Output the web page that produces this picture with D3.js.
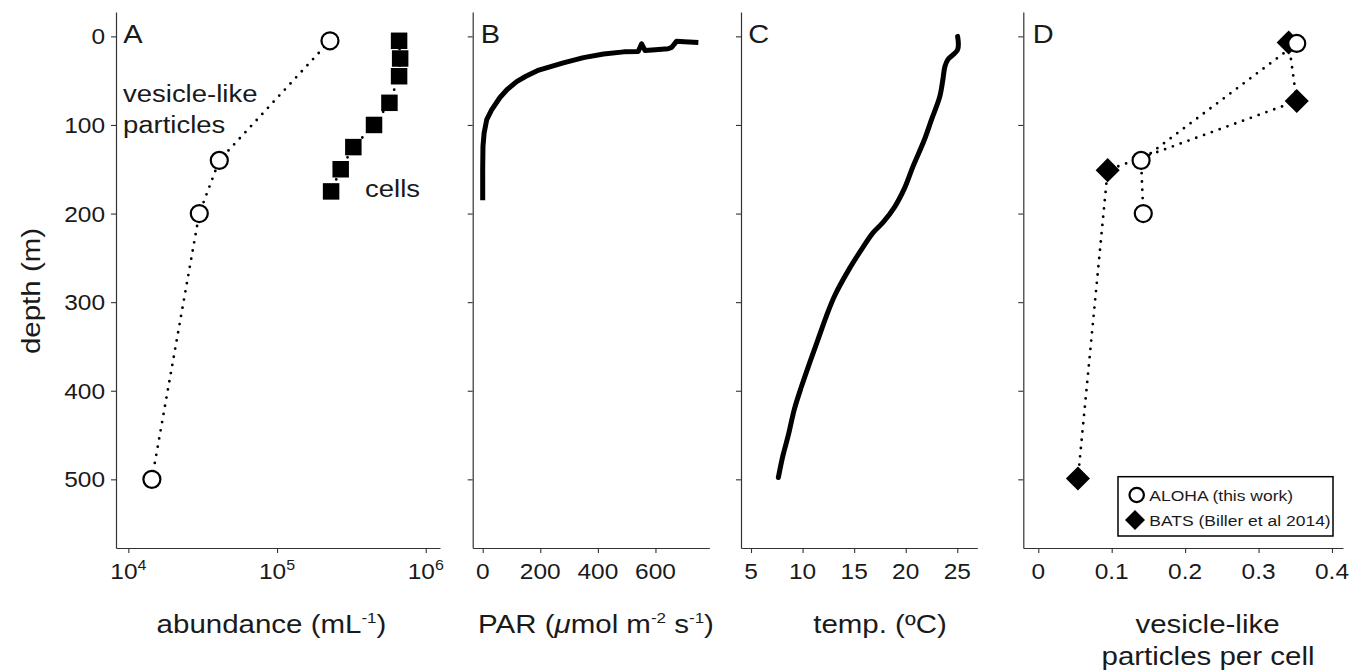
<!DOCTYPE html>
<html>
<head>
<meta charset="utf-8">
<script src="https://cdn.jsdelivr.net/npm/d3@7"></script>
<style>
  html, body { margin: 0; padding: 0; background: #fff; }
  svg text { font-family: "Liberation Sans", Arial, Helvetica, sans-serif; fill: #1a1a1a; }
</style>
</head>
<body>
<svg id="chart" width="1355" height="672"></svg>
<script>
// ---------------- data ----------------
// Panel A: abundance (mL^-1) vs depth (m)
const vesDepth = [5, 140, 200, 500];
const vesAbund = [2.27e5, 4.09e4, 3.0e4, 1.44e4];
const cellDepth = [5, 25, 45, 75, 100, 125, 150, 175];
const cellAbund = [6.62e5, 6.73e5, 6.62e5, 5.7e5, 4.49e5, 3.26e5, 2.68e5, 2.31e5];

// Panel B: PAR profile
const parDepth = [185, 150, 124, 109, 94, 83, 69, 60, 51, 45, 38, 30, 24, 20, 17.5, 17, 8.5, 16, 15, 14, 12.5, 5.6, 6, 6.8];
const parValue = [0, 0, 1, 5, 14, 31, 60, 85, 118, 150, 195, 280, 350, 420, 490, 540, 552, 564, 600, 644, 656, 673, 700, 749];

// Panel C: temperature profile
const tempDepth = [0, 15, 26, 34, 49, 68, 94, 117, 147, 171, 193, 210, 222, 239, 263, 293, 316, 342, 368, 395, 421, 451, 473, 498];
const tempValue = [25.03, 25.03, 24.1, 23.8, 23.6, 23.3, 22.5, 21.8, 20.7, 19.9, 18.9, 17.8, 16.8, 15.8, 14.5, 13.1, 12.3, 11.5, 10.7, 9.9, 9.2, 8.6, 8.1, 7.65];

// Panel D: vesicle-like particles per cell
const alohaDepth = [8, 140, 200];
const alohaRatio = [0.352, 0.140, 0.143];
const batsDepth = [7, 73, 151, 499];
const batsRatio = [0.341, 0.352, 0.0945, 0.054];

// ticks / labels
const depthTicks = [0, 100, 200, 300, 400, 500];
const abundTicks = [1e4, 1e5, 1e6];
const abundTickExp = ["4", "5", "6"];
const parTicks = [0, 200, 400, 600];
const tempTicks = [5, 10, 15, 20, 25];
const ratioTicks = [0, 0.1, 0.2, 0.3, 0.4];
const ratioTickLabels = ["0", "0.1", "0.2", "0.3", "0.4"];
const panelLetters = ["A", "B", "C", "D"];
const legendLabels = ["ALOHA (this work)", "BATS (Biller et al 2014)"];

// ---------------- layout ----------------
const svg = d3.select("#chart");
const SY = 0.88;       // vertical text compression to match reference glyphs
const AX = "#333";
const plotTop = 12, plotBottom = 548;

const y = d3.scaleLinear().domain([-27.5, 577.5]).range([plotTop, plotBottom]);

const xA = d3.scaleLog().domain([Math.pow(10, 3.917), Math.pow(10, 6.096)]).range([116, 440]);
const xB = d3.scaleLinear().domain([-34.7, 787]).range([472.7, 709.3]);
const xC = d3.scaleLinear().domain([4.03, 26.94]).range([741, 977.3]);
const xD = d3.scaleLinear().domain([-0.0204, 0.415]).range([1023.3, 1343]);

function txt(parent, x, yy, size, anchor, rot) {
  return parent.append("text")
    .attr("transform", `translate(${x},${yy}) rotate(${rot || 0}) scale(1,${SY})`)
    .attr("text-anchor", anchor)
    .style("font-size", size + "px");
}

function drawAxes(x, ticks, labelFn) {
  const g = svg.append("g");
  g.append("g").attr("transform", `translate(${x.range()[0]},0)`)
    .call(d3.axisLeft(y).tickValues(depthTicks).tickSize(5).tickSizeOuter(0).tickFormat(""));
  g.append("g").attr("transform", `translate(0,${plotBottom})`)
    .call(d3.axisBottom(x).tickValues(ticks).tickSize(5).tickSizeOuter(0).tickFormat(""));
  g.selectAll(".domain").attr("stroke", AX).attr("stroke-width", 1.2);
  g.selectAll(".tick line").attr("stroke", AX).attr("stroke-width", 1.1);
  ticks.forEach((t, i) => labelFn(g, x(t), 579, t, i));
  return g;
}

// Panel A
drawAxes(xA, abundTicks, (g, px, py, t, i) => {
  const el = txt(g, px, py, 24.5, "middle");
  el.append("tspan").text("10");
  el.append("tspan").attr("dy", -10).style("font-size", "16px").text(abundTickExp[i]);
});
depthTicks.forEach(d => txt(svg, 105, y(d) + 8, 24.5, "end").text(d));

// Panel B
drawAxes(xB, parTicks, (g, px, py, t) => txt(g, px, py, 24.5, "middle").text(t));
// Panel C
drawAxes(xC, tempTicks, (g, px, py, t) => txt(g, px, py, 24.5, "middle").text(t));
// Panel D
drawAxes(xD, ratioTicks, (g, px, py, t, i) => txt(g, px, py, 24.5, "middle").text(ratioTickLabels[i]));

// panel letters
[123.3, 480.7, 748.3, 1032.7].forEach((px, i) => {
  txt(svg, px, 43, 29, "start").text(panelLetters[i]);
});

// axis titles
txt(svg, 40, 291, 29.5, "middle", -90).text("depth (m)");
{
  const t = txt(svg, 271.5, 633, 29.5, "middle");
  t.append("tspan").text("abundance (mL");
  t.append("tspan").attr("dy", -11).style("font-size", "17px").text("-1");
  t.append("tspan").attr("dy", 11).text(")");
}
{
  const t = txt(svg, 596, 633, 29.5, "middle");
  t.append("tspan").text("PAR (");
  t.append("tspan").style("font-style", "italic").text("\u03bc");
  t.append("tspan").text("mol m");
  t.append("tspan").attr("dy", -11).style("font-size", "17px").text("-2");
  t.append("tspan").attr("dy", 11).text(" s");
  t.append("tspan").attr("dy", -11).style("font-size", "17px").text("-1");
  t.append("tspan").attr("dy", 11).text(")");
}
txt(svg, 880, 633, 29.5, "middle").text("temp. (\u00baC)");
txt(svg, 1207.5, 633, 29.5, "middle").text("vesicle-like");
txt(svg, 1208, 665, 29.5, "middle").text("particles per cell");

// ---------------- marks ----------------
function dotted(parent, pts) {
  parent.append("path")
    .attr("d", d3.line()(pts))
    .attr("fill", "none")
    .attr("stroke", "#000")
    .attr("stroke-width", 2.8)
    .attr("stroke-linecap", "round")
    .attr("stroke-dasharray", "0,8.3");
}
const circleR = 8.5;
const squareSym = d3.symbol().type(d3.symbolSquare).size(272);
const diamondSym = d3.symbol().type(d3.symbolSquare).size(290);

// Panel A marks
const mA = svg.append("g");
dotted(mA, vesDepth.map((d, i) => [xA(vesAbund[i]), y(d)]));
dotted(mA, cellDepth.map((d, i) => [xA(cellAbund[i]), y(d)]));
cellDepth.forEach((d, i) => {
  mA.append("path").attr("d", squareSym())
    .attr("transform", `translate(${xA(cellAbund[i])},${y(d)})`)
    .attr("fill", "#000");
});
vesDepth.forEach((d, i) => {
  mA.append("circle").attr("cx", xA(vesAbund[i])).attr("cy", y(d)).attr("r", circleR)
    .attr("fill", "#fff").attr("stroke", "#000").attr("stroke-width", 2.2);
});
txt(svg, 123, 101.7, 27.5, "start").text("vesicle-like");
txt(svg, 123, 133.3, 27.5, "start").text("particles");
txt(svg, 365, 196.7, 27.5, "start").text("cells");

// Panel B line
svg.append("path")
  .attr("d", d3.line().x((d, i) => xB(parValue[i])).y(d => y(d))(parDepth))
  .attr("fill", "none").attr("stroke", "#000").attr("stroke-width", 5)
  .attr("stroke-linejoin", "round");

// Panel C line
svg.append("path")
  .attr("d", d3.line().curve(d3.curveCatmullRom).x((d, i) => xC(tempValue[i])).y(d => y(d))(tempDepth))
  .attr("fill", "none").attr("stroke", "#000").attr("stroke-width", 5)
  .attr("stroke-linejoin", "round").attr("stroke-linecap", "round");

// Panel D marks
const mD = svg.append("g");
dotted(mD, batsDepth.map((d, i) => [xD(batsRatio[i]), y(d)]));
dotted(mD, alohaDepth.map((d, i) => [xD(alohaRatio[i]), y(d)]));
batsDepth.forEach((d, i) => {
  mD.append("path").attr("d", diamondSym())
    .attr("transform", `translate(${xD(batsRatio[i])},${y(d)}) rotate(45)`)
    .attr("fill", "#000");
});
alohaDepth.forEach((d, i) => {
  mD.append("circle").attr("cx", xD(alohaRatio[i])).attr("cy", y(d)).attr("r", circleR)
    .attr("fill", "#fff").attr("stroke", "#000").attr("stroke-width", 2.2);
});

// legend
const lg = svg.append("g");
lg.append("rect").attr("x", 1118).attr("y", 476.7).attr("width", 215).attr("height", 59.3)
  .attr("fill", "#fff").attr("stroke", "#000").attr("stroke-width", 1.5);
lg.append("circle").attr("cx", 1136.7).attr("cy", 495).attr("r", 7.2)
  .attr("fill", "#fff").attr("stroke", "#000").attr("stroke-width", 2.2);
lg.append("path").attr("d", d3.symbol().type(d3.symbolSquare).size(200)())
  .attr("transform", "translate(1135,520) rotate(45)").attr("fill", "#000");
txt(lg, 1149.3, 501, 17.5, "start").text(legendLabels[0]);
txt(lg, 1149.3, 526, 17.5, "start").text(legendLabels[1]);
</script>
</body>
</html>
